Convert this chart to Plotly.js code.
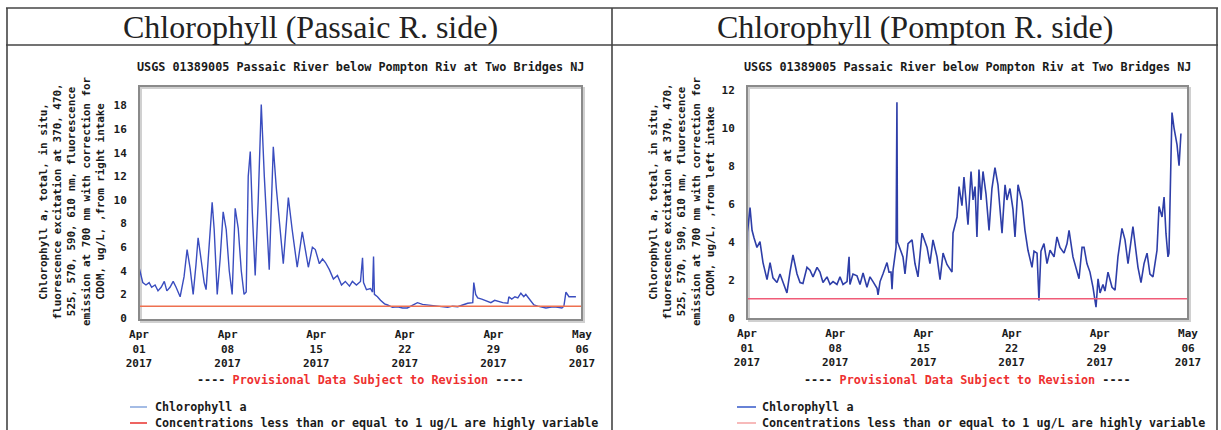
<!DOCTYPE html>
<html>
<head>
<meta charset="utf-8">
<script src="https://cdn.plot.ly/plotly-3.0.1.min.js"></script>
<style>html,body{margin:0;padding:0;background:#fff;}#chart{width:1221px;height:430px;}</style>
</head>
<body>
<div id="chart"></div>
<script>
// ---- DATA ----
const panelTitles = ["Chlorophyll (Passaic R. side)", "Chlorophyll (Pompton R. side)"];
const siteTitle = "USGS 01389005 Passaic River below Pompton Riv at Two Bridges NJ";
const yTitleLeft = ["Chlorophyll a, total, in situ,", "fluorescence excitation at 370, 470,", "525, 570, 590, 610 nm, fluorescence", "emission at 700 nm with correction for", "CDOM, ug/L, ,from right intake"];
const yTitleRight = ["Chlorophyll a, total, in situ,", "fluorescence excitation at 370, 470,", "525, 570, 590, 610 nm, fluorescence", "emission at 700 nm with correction for", "CDOM, ug/L, ,from left intake"];
const xTickVals = ["2017-04-01", "2017-04-08", "2017-04-15", "2017-04-22", "2017-04-29", "2017-05-06"];
const xTickText = ["Apr<br>01<br>2017", "Apr<br>08<br>2017", "Apr<br>15<br>2017", "Apr<br>22<br>2017", "Apr<br>29<br>2017", "May<br>06<br>2017"];
const yTicksLeft = [0, 2, 4, 6, 8, 10, 12, 14, 16, 18];
const yTicksRight = [0, 2, 4, 6, 8, 10, 12];
const thresholdValue = 1;
const legendNames = ["Chlorophyll a", "Concentrations less than or equal to 1 ug/L are highly variable"];
const provisional = "Provisional Data Subject to Revision";

// days since Apr 01 2017 00:00 and chlorophyll values (ug/L)
const passaicDays = [0.00,0.15,0.3,0.55,0.8,1.0,1.27,1.5,1.75,2.0,2.2,2.45,2.7,2.93,3.25,3.56,3.8,4.04,4.28,4.5,4.67,4.9,5.15,5.3,5.54,5.78,5.94,6.18,6.41,6.65,6.89,7.13,7.36,7.6,7.84,8.08,8.3,8.47,8.63,8.79,8.95,9.18,9.42,9.66,9.9,10.29,10.61,10.85,11.4,11.8,12.1,12.5,12.9,13.38,13.7,13.93,14.25,14.5,14.73,15.04,15.36,15.68,16.0,16.3,16.63,16.86,17.18,17.5,17.66,17.74,17.97,18.29,18.45,18.53,18.6,18.84,19.08,19.4,19.64,20.03,20.43,20.82,21.2,21.6,22.0,22.4,22.8,23.2,23.6,24.0,24.39,24.78,25.18,25.57,25.97,26.37,26.45,26.6,26.76,27.08,27.3,27.55,27.8,28.1,28.35,28.74,29.14,29.22,29.45,29.7,29.93,30.17,30.4,30.56,30.7,30.96,31.2,31.5,31.83,32.15,32.46,32.78,33.1,33.41,33.57,33.73,33.97,34.28,34.52];
const passaicChl = [4.3,3.6,3.0,2.8,3.0,2.6,2.8,2.3,2.6,3.1,2.3,2.6,3.1,2.6,1.8,3.5,5.8,4.2,2.0,4.5,6.8,5.0,3.0,2.4,6.0,9.8,7.5,2.0,5.0,9.0,7.5,4.0,2.0,9.3,7.6,4.0,2.0,2.2,12.0,14.1,9.0,3.6,10.0,18.1,12.0,4.1,14.5,11.0,4.6,10.2,7.5,4.3,7.3,4.3,6.0,5.8,4.6,5.0,4.7,4.1,3.3,3.6,2.8,3.1,2.7,3.1,2.8,3.1,5.1,3.0,2.4,2.5,2.2,5.2,2.0,1.8,1.5,1.2,1.1,0.9,0.95,0.85,0.85,1.1,1.3,1.15,1.1,1.0,0.95,0.9,0.9,1.0,0.95,1.1,1.25,1.3,3.0,2.0,1.7,1.6,1.5,1.4,1.3,1.5,1.4,1.3,1.25,1.8,1.6,1.8,1.7,2.1,1.8,2.0,1.8,1.4,1.1,1.0,0.9,0.85,0.9,0.95,0.9,0.85,1.0,2.2,1.8,1.8,1.8];

const pomptonDays = [0,0.04,0.24,0.4,0.56,0.79,1.03,1.27,1.59,1.83,2.06,2.38,2.62,2.86,3.17,3.41,3.65,3.97,4.21,4.44,4.76,5.0,5.24,5.56,5.79,6.03,6.35,6.59,6.83,7.14,7.38,7.62,7.94,8.1,8.17,8.41,8.73,8.97,9.21,9.52,9.76,10.0,10.32,10.4,10.56,10.79,11.11,11.27,11.43,11.51,11.59,11.83,11.9,11.94,12.14,12.38,12.54,12.78,13.1,13.33,13.57,13.89,14.29,14.52,14.76,15.08,15.32,15.56,15.87,16.27,16.35,16.67,16.83,17.06,17.22,17.38,17.54,17.78,17.94,18.1,18.25,18.41,18.57,18.73,18.97,19.21,19.44,19.68,19.92,20.24,20.48,20.63,20.87,21.11,21.27,21.51,21.83,22.06,22.3,22.62,22.78,23.02,23.17,23.33,23.57,23.81,24.05,24.37,24.6,24.84,25.16,25.4,25.56,25.87,26.19,26.35,26.59,26.75,26.98,27.22,27.46,27.7,27.86,28.02,28.25,28.41,28.65,28.97,29.21,29.44,29.76,30.0,30.24,30.48,30.63,30.87,31.03,31.27,31.51,31.75,31.98,32.22,32.54,32.7,32.94,33.1,33.25,33.41,33.49,33.65,33.73,33.89,34.13,34.29,34.44];
const pomptonChl = [2.5,4.5,5.8,4.6,4.2,3.7,4.0,2.9,2.0,2.9,2.1,1.85,2.3,1.9,1.3,2.4,3.3,2.3,1.85,1.8,2.65,2.5,2.15,2.65,2.4,1.85,2.15,1.75,1.9,1.75,2.15,1.75,1.9,3.2,1.75,2.3,2.2,1.75,2.35,1.6,2.15,1.9,1.55,1.2,1.9,2.3,2.9,2.4,2.4,1.5,2.5,3.7,11.35,4.0,3.65,3.2,2.3,3.9,4.1,2.85,2.15,4.45,3.7,2.85,4.1,3.2,2.0,3.4,2.8,2.4,4.45,5.3,6.9,5.9,7.4,6.2,4.9,7.7,6.2,6.9,4.25,7.8,6.2,7.7,6.5,4.6,6.8,7.9,7.0,4.45,7.0,6.2,6.8,5.7,4.25,7.0,6.1,4.6,3.55,2.65,3.5,3.4,0.9,3.5,3.9,2.85,3.55,3.2,4.25,3.7,3.4,3.9,4.6,3.2,2.5,2.05,3.7,3.7,2.85,2.4,1.6,0.55,2.05,1.3,1.75,1.4,2.4,1.6,1.45,3.2,4.7,4.1,2.85,4.25,4.8,3.5,2.65,1.85,2.85,3.4,2.3,2.15,3.55,5.85,5.3,6.35,4.45,3.2,3.4,8.45,10.8,10.0,9.1,8.0,9.7];

// ---- helpers ----
const W = 1221, H = 430;
const PX = x => x / W;
const PY = y => 1 - y / H;
const t0 = Date.UTC(2017, 3, 1);
function toDates(days) {
  return days.map(d => new Date(t0 + d * 86400000).toISOString().slice(0, 19).replace('T', ' '));
}
const xRange = [xTickVals[0], xTickVals[xTickVals.length - 1]];

const monoFont = {family: "DejaVu Sans Mono", size: 11, color: "#1a1a1a", weight: "bold"};

const traces = [
  {x: toDates(passaicDays), y: passaicChl, type: "scatter", mode: "lines", xaxis: "x", yaxis: "y",
   line: {color: "#3a4dbf", width: 1.4}, showlegend: false, hoverinfo: "skip"},
  {x: xRange, y: [thresholdValue, thresholdValue], type: "scatter", mode: "lines", xaxis: "x", yaxis: "y",
   line: {color: "#ee7050", width: 1.4}, showlegend: false, hoverinfo: "skip"},
  {x: toDates(pomptonDays), y: pomptonChl, type: "scatter", mode: "lines", xaxis: "x2", yaxis: "y2",
   line: {color: "#2e3ea8", width: 1.6}, showlegend: false, hoverinfo: "skip"},
  {x: xRange, y: [thresholdValue, thresholdValue], type: "scatter", mode: "lines", xaxis: "x2", yaxis: "y2",
   line: {color: "#f05c78", width: 1.4}, showlegend: false, hoverinfo: "skip"}
];

function xAxis(domain, anchor) {
  return {type: "date", domain: domain, anchor: anchor, range: xRange, tickvals: xTickVals, ticktext: xTickText,
    tickmode: "array", showgrid: false, zeroline: false, showline: false, ticks: "outside", ticklen: 4,
    tickcolor: "rgba(0,0,0,0)", tickfont: monoFont, fixedrange: true};
}
function yAxis(domain, anchor, range, vals) {
  return {domain: domain, anchor: anchor, range: range, tickvals: vals, tickmode: "array", showgrid: false,
    zeroline: false, showline: false, ticks: "outside", ticklen: 9, tickcolor: "rgba(0,0,0,0)",
    tickfont: monoFont, fixedrange: true};
}

const panels = [
  {cx: 310, plotL: 139, plotR: 582, plotT: 86, plotB: 320, yt: yTitleLeft, ytx: 72, legLine: ["#86a6dc", "#e8312c"], legL: 130, legR: 147, legText: 153},
  {cx: 915, plotL: 747, plotR: 1188, plotT: 86, plotB: 319, yt: yTitleRight, ytx: 682, legLine: ["#3558c8", "#f4a3a3"], legL: 737, legR: 756, legText: 760}
];

const annotations = [];
const shapes = [];
panels.forEach((p, i) => {
  const mid = (p.plotL + p.plotR) / 2;
  annotations.push({xref: "paper", yref: "paper", x: PX(p.cx), y: PY(27), text: panelTitles[i], showarrow: false,
    xanchor: "center", yanchor: "middle", font: {family: "Liberation Serif", size: 32, color: "#222"}});
  annotations.push({xref: "paper", yref: "paper", x: PX(mid), y: PY(67), text: siteTitle, showarrow: false,
    xanchor: "center", yanchor: "middle", font: {family: "DejaVu Sans Mono", size: 11.8, color: "#1a1a1a", weight: "bold"}});
  annotations.push({xref: "paper", yref: "paper", x: PX(p.ytx), y: PY(201), text: p.yt.join("<br>"), showarrow: false,
    textangle: -90, align: "center", xanchor: "center", yanchor: "middle",
    font: {family: "DejaVu Sans Mono", size: 10.9, color: "#1a1a1a", weight: "bold"}});
  annotations.push({xref: "paper", yref: "paper", x: PX(mid), y: PY(380),
    text: "<span style='color:#1a1a1a'>----</span> " + provisional + " <span style='color:#1a1a1a'>----</span>",
    showarrow: false, xanchor: "center", yanchor: "middle",
    font: {family: "DejaVu Sans Mono", size: 11.8, color: "#ee3030", weight: "bold"}});
  [407, 423].forEach((yy, k) => {
    shapes.push({type: "line", xref: "paper", yref: "paper", x0: PX(p.legL), x1: PX(p.legR), y0: PY(yy), y1: PY(yy),
      line: {color: p.legLine[k], width: 1.5}});
    annotations.push({xref: "paper", yref: "paper", x: PX(p.legText), y: PY(yy), text: legendNames[k], showarrow: false,
      xanchor: "left", yanchor: "middle", font: {family: "DejaVu Sans Mono", size: 11.7, color: "#1a1a1a", weight: "bold"}});
  });
  // plot frame
  shapes.push({type: "rect", xref: "paper", yref: "paper", x0: PX(p.plotL + 2), x1: PX(p.plotR + 2), y0: PY(p.plotB + 2), y1: PY(p.plotT + 2),
    line: {color: "#d0d0d0", width: 2}, layer: "below"});
  shapes.push({type: "rect", xref: "paper", yref: "paper", x0: PX(p.plotL), x1: PX(p.plotR), y0: PY(p.plotB), y1: PY(p.plotT),
    line: {color: "#8a8a8a", width: 2}});
});

// table borders
[[6, 1218, 8, 8], [6, 1218, 45, 45], [7, 7, 8, 430], [612, 612, 8, 430], [1217, 1217, 8, 430]].forEach(b => {
  shapes.push({type: "line", xref: "paper", yref: "paper", x0: PX(b[0]), x1: PX(b[1]), y0: PY(b[2]), y1: PY(b[3]),
    line: {color: "#444", width: 1.6}});
});

const layout = {
  width: W, height: H, margin: {l: 0, r: 0, t: 0, b: 0}, paper_bgcolor: "#fff", plot_bgcolor: "#fff",
  showlegend: false,
  xaxis: xAxis([PX(139), PX(582)], "y"),
  yaxis: yAxis([PY(320), PY(86)], "x", [-0.17, 19.66], yTicksLeft),
  xaxis2: xAxis([PX(747), PX(1188)], "y2"),
  yaxis2: yAxis([PY(319), PY(86)], "x2", [-0.07, 12.2], yTicksRight),
  annotations: annotations,
  shapes: shapes
};

Plotly.newPlot("chart", traces, layout, {staticPlot: true, displayModeBar: false});
</script>
</body>
</html>
